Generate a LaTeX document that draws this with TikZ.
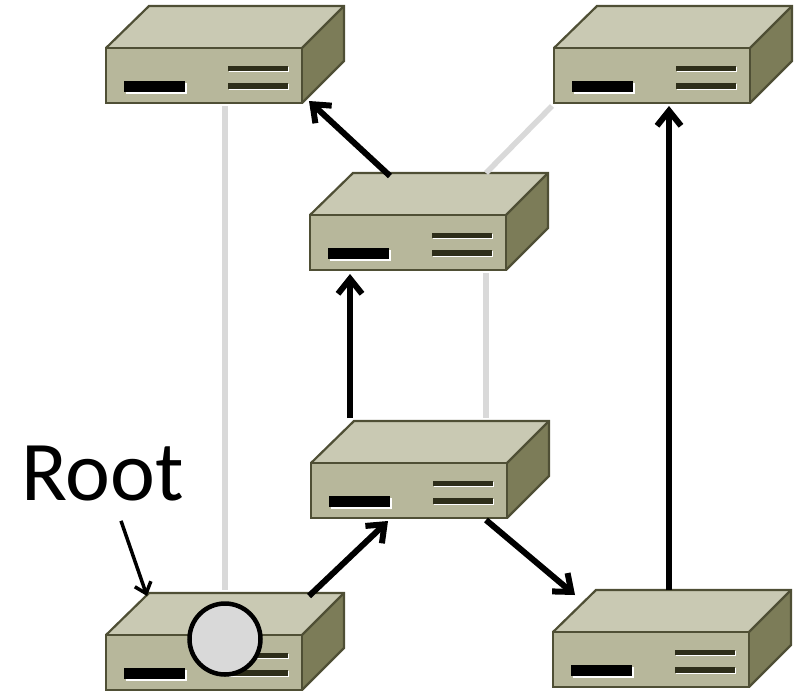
\documentclass[tikz,border=0pt]{standalone}
\usepackage{fontspec}
\setmainfont{Carlito}
\usetikzlibrary{arrows.meta,calc}
\definecolor{swfront}{HTML}{B7B79B}
\definecolor{swtop}{HTML}{C9C9B3}
\definecolor{swside}{HTML}{7C7C58}
\definecolor{swline}{HTML}{4F4F35}
\definecolor{swbar}{HTML}{2E2E1A}
\definecolor{linkgray}{HTML}{D9D9D9}
\tikzset{
  x=1pt,y=-1pt,
  swbody/.style={draw=swline,line width=2.2pt,line join=miter},
  swnode/.style={rectangle,inner sep=0pt,outer sep=0pt,minimum width=196pt,minimum height=55pt,anchor=north west},
  idle/.style={linkgray,line width=5.5pt},
  active/.style={black,line width=6pt,-{Straight Barb[length=15pt,width=24pt,line width=6pt]}},
  pointer/.style={black,line width=3.5pt,-{Straight Barb[length=10pt,width=17pt,line width=3.5pt]}},
  rootmark/.style={circle,draw=black,line width=4.5pt,fill=linkgray,minimum size=71pt,inner sep=0pt},
  lab/.style={inner sep=0pt,font=\fontsize{85}{85}\selectfont}
}
\newcommand{\swt}[3]{%
  \node[swnode] (#1) at (#2,#3) {};
  \fill[swfront] (#1.north west) rectangle (#1.south east);
  \fill[swtop] (#1.north west) -- ++(43,-42) -- ++(195,0) -- (#1.north east) -- cycle;
  \fill[swside] (#1.north east) -- ++(42,-42) -- ++(0,55) -- (#1.south east) -- cycle;
  \draw[swbody] (#1.north west) -- ++(43,-42) -- ++(195,0) -- ++(0,55) -- (#1.south east);
  \draw[swbody] (#1.north east) -- ++(42,-42);
  \draw[swbody] (#1.north west) rectangle (#1.south east);
  \fill[white] ($(#1.north west)+(20,35)$) rectangle ++(61,11);
  \fill[black] ($(#1.north west)+(18,33)$) rectangle ++(61,11);
  \fill[white] ($(#1.north west)+(123,18.5)$) rectangle ++(60,5.5);
  \fill[swbar] ($(#1.north west)+(122,17.5)$) rectangle ++(60,5.5);
  \fill[white] ($(#1.north west)+(123,36)$) rectangle ++(60,5.5);
  \fill[swbar] ($(#1.north west)+(122,35)$) rectangle ++(60,5.5);
}
\begin{document}
\begin{tikzpicture}
\useasboundingbox (0,0) rectangle (803,691);
\swt{sa}{106}{48}
\swt{sb}{554}{48}
\swt{sc}{310}{215}
\swt{sd}{311}{463}
\swt{se}{106}{635}
\swt{sf}{553}{632}
\node[lab,anchor=base west] (rootlabel) at (21,500) {Root};
% idle links
\draw[idle] ($(sa.south west)+(119,3)$) -- ($(se.north west)+(119,-45)$);
\draw[idle] ($(sb.south west)+(-2,3)$) -- ($(sc.north west)+(176,-42)$);
\draw[idle] ($(sc.south west)+(176,3)$) -- ($(sd.north west)+(175,-45)$);
% active links
\draw[active] ($(sc.north west)+(80,-39)$) -- ($(sa.south east)+(7,-2)$);
\draw[active] ($(sd.north west)+(39,-45)$) -- ($(sc.south west)+(40,4)$);
\draw[active] ($(sf.north west)+(116,-42)$) -- ($(sb.south west)+(115,3)$);
\draw[active] ($(se.north west)+(203,-39)$) -- ($(sd.south west)+(77,3)$);
\draw[active] ($(sd.south west)+(175,2)$) -- ($(sf.north west)+(22,-37)$);
\draw[pointer] ($(rootlabel.south west)+(100,20)$) -- ($(se.north west)+(41,-39)$);
\node[rootmark] (rootdot) at (225,639) {};
\end{tikzpicture}
\end{document}
